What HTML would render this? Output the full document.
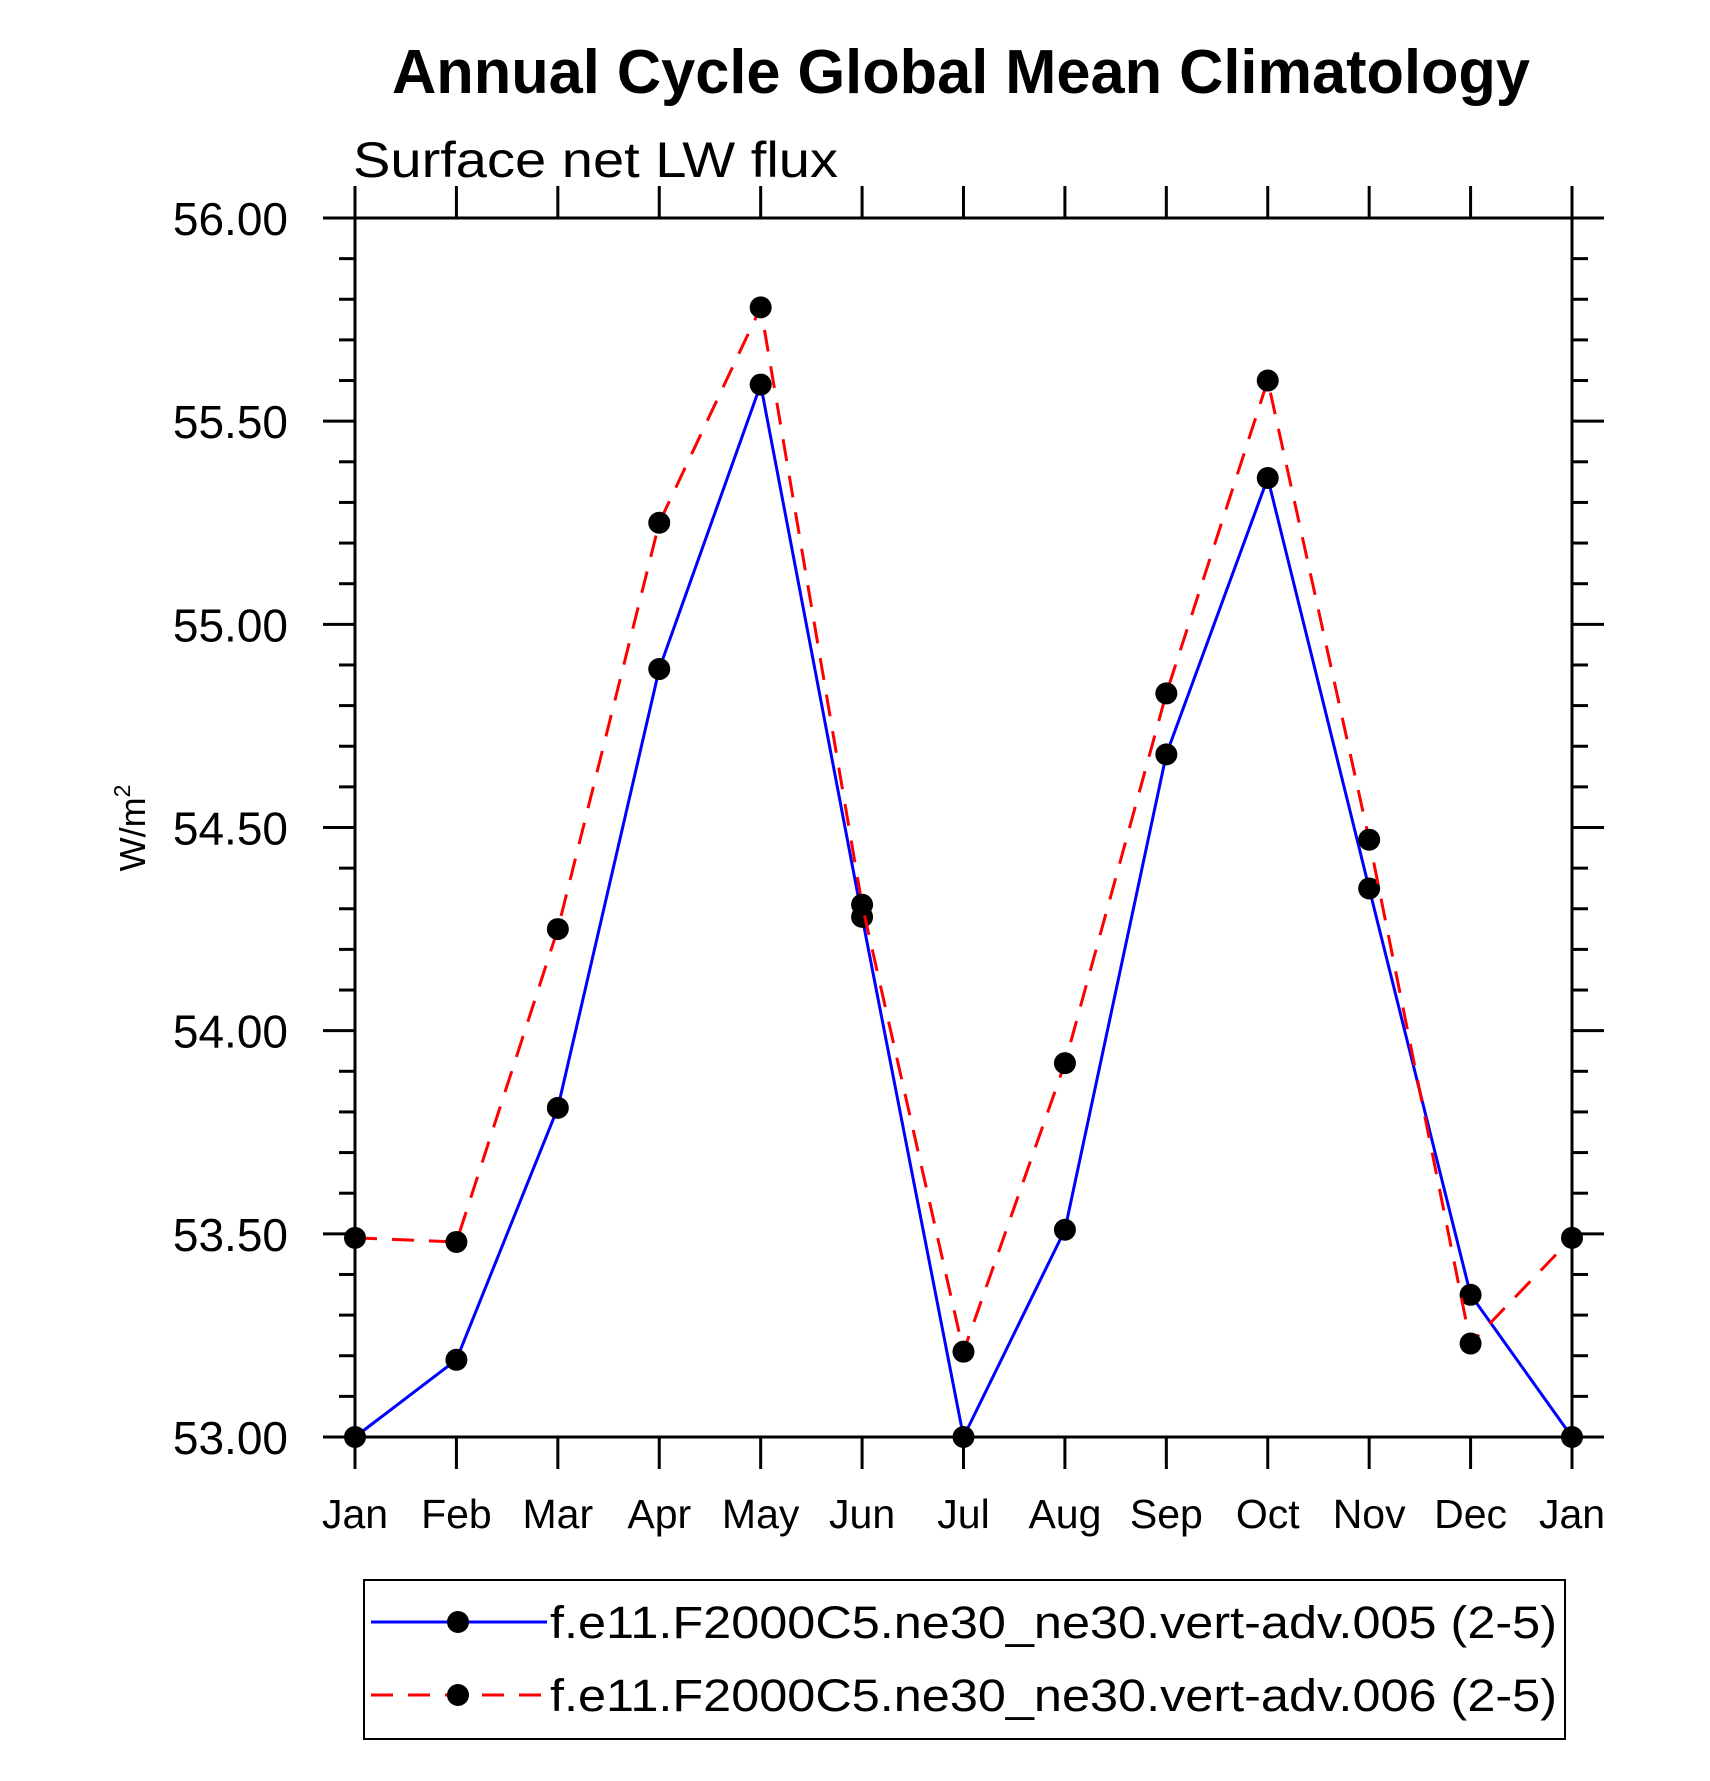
<!DOCTYPE html>
<html><head><meta charset="utf-8"><style>
html,body{margin:0;padding:0;background:#fff;}
svg{display:block;font-family:"Liberation Sans",Arial,sans-serif;}
</style></head><body>
<svg id="chart" width="1710" height="1781" viewBox="0 0 1710 1781" xmlns="http://www.w3.org/2000/svg">
<rect width="1710" height="1781" fill="#fff"/>
<text x="392" y="93" font-size="62" font-weight="bold" textLength="1138" lengthAdjust="spacingAndGlyphs">Annual Cycle Global Mean Climatology</text>
<text x="353" y="177" font-size="50" textLength="485" lengthAdjust="spacingAndGlyphs">Surface net LW flux</text>
<text transform="translate(145,828) rotate(-90)" text-anchor="middle" font-size="36">W/m<tspan font-size="23" dy="-15">2</tspan></text>
<g id="axes"></g>
<g id="series"></g>
<g>
<rect x="364" y="1580" width="1201" height="159" fill="none" stroke="#000" stroke-width="2"/>
<g>
<line x1="371" y1="1622" x2="547" y2="1622" stroke="#0000ff" stroke-width="3"/>
<circle cx="458" cy="1622" r="11" fill="#000"/>
<text x="550" y="1638" font-size="45" textLength="1007" lengthAdjust="spacingAndGlyphs">f.e11.F2000C5.ne30_ne30.vert-adv.005 (2-5)</text>
</g>
<g>
<line x1="371" y1="1695" x2="547" y2="1695" stroke="#ff0000" stroke-width="3" stroke-dasharray="22,15"/>
<circle cx="458" cy="1695" r="11" fill="#000"/>
<text x="550" y="1711" font-size="45" textLength="1007" lengthAdjust="spacingAndGlyphs">f.e11.F2000C5.ne30_ne30.vert-adv.006 (2-5)</text>
</g>
</g>
</svg>
<script>
const months = ["Jan","Feb","Mar","Apr","May","Jun","Jul","Aug","Sep","Oct","Nov","Dec","Jan"];
const series005 = [53.00,53.19,53.81,54.89,55.59,54.28,53.00,53.51,54.68,55.36,54.35,53.35,53.00];
const series006 = [53.49,53.48,54.25,55.25,55.78,54.31,53.21,53.92,54.83,55.60,54.47,53.23,53.49];
const yTicks = [53.0,53.5,54.0,54.5,55.0,55.5,56.0];
const yTickLabels = ["53.00","53.50","54.00","54.50","55.00","55.50","56.00"];

const NS = "http://www.w3.org/2000/svg";
const L = 355, R = 1572, T = 218, B = 1437;
const yMin = 53, yMax = 56;
function xs(i){ return L + (R - L) * i / (months.length - 1); }
function ys(v){ return B - (B - T) * (v - yMin) / (yMax - yMin); }
function mk(tag, attrs, parent){
  const e = document.createElementNS(NS, tag);
  for (const k in attrs) e.setAttribute(k, attrs[k]);
  parent.appendChild(e);
  return e;
}
const axes = document.getElementById("axes");
const frame = mk("rect", {x:L, y:T, width:R-L, height:B-T, fill:"none", stroke:"#000", "stroke-width":3}, axes);



for (let v = yMin; v <= yMax + 1e-9; v += 0.1) {
  const y = ys(v);
  const major = Math.abs(v * 2 - Math.round(v * 2)) < 1e-6;
  const len = major ? 32 : 16;
  const t1 = mk("line", {x1:L-len, y1:y, x2:L, y2:y, stroke:"#000", "stroke-width":3}, axes);
  
  
  const t2 = mk("line", {x1:R, y1:y, x2:R+len, y2:y, stroke:"#000", "stroke-width":3}, axes);
  
  
}
yTicks.forEach((v, i) => {
  const t = mk("text", {x:288, y:ys(v)+17, "font-size":46, "text-anchor":"end"}, axes);
  t.textContent = yTickLabels[i];
  
  
});
months.forEach((m, i) => {
  const x = xs(i);
  const b = mk("line", {x1:x, y1:B, x2:x, y2:B+32, stroke:"#000", "stroke-width":3}, axes);
  
  
  const tp = mk("line", {x1:x, y1:T-32, x2:x, y2:T, stroke:"#000", "stroke-width":3}, axes);
  
  
  const t = mk("text", {x:x, y:1528, "font-size":41, "text-anchor":"middle"}, axes);
  t.textContent = m;
  
  
});

const sg = document.getElementById("series");
function drawSeries(vals, color, dash, name){
  const pts = vals.map((v, i) => xs(i) + "," + ys(v)).join(" ");
  const attrs = {points:pts, fill:"none", stroke:color, "stroke-width":3};
  if (dash) attrs["stroke-dasharray"] = dash;
  const pl = mk("polyline", attrs, sg);
  
  
  vals.forEach((v, i) => {
    const c = mk("circle", {cx:xs(i), cy:ys(v), r:11, fill:"#000"}, sg);
    
    
  });
}
drawSeries(series005, "#0000ff", null, "series-005");
drawSeries(series006, "#ff0000", "22,15", "series-006");
</script>
</body></html>
